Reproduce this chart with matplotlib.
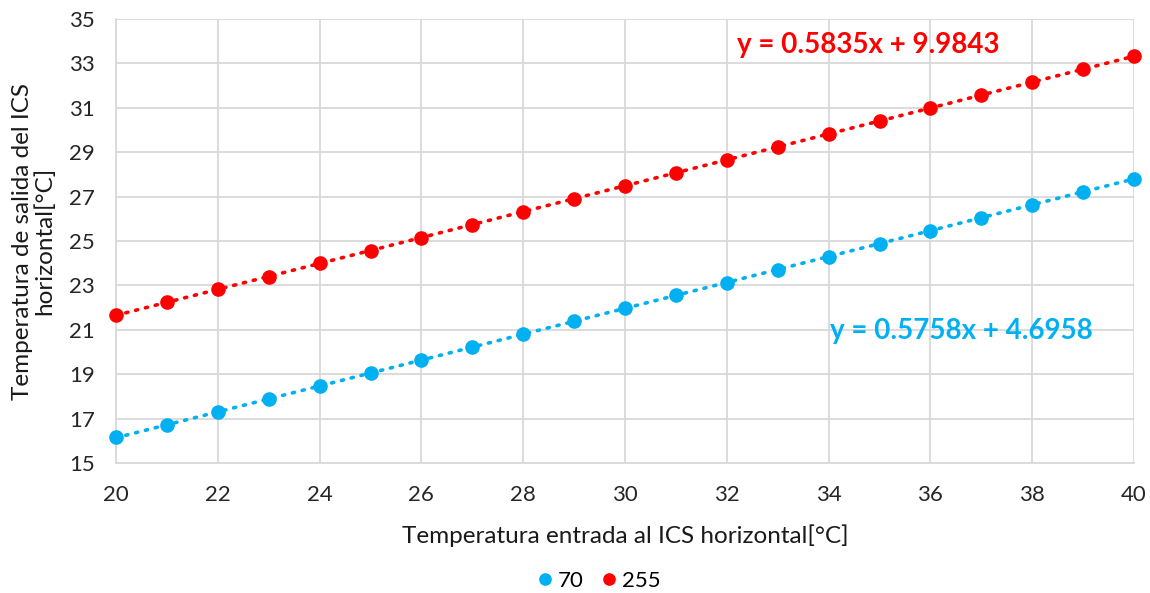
import matplotlib
matplotlib.use("Agg")
import matplotlib.pyplot as plt
import numpy as np

x_vals = list(range(20, 41))
y_70 = [16.15, 16.73, 17.30, 17.88, 18.47, 19.05, 19.63, 20.21, 20.80, 21.38, 21.97,
        22.55, 23.13, 23.71, 24.30, 24.88, 25.47, 26.05, 26.63, 27.22, 27.80]
y_255 = [21.65, 22.25, 22.82, 23.40, 23.99, 24.57, 25.15, 25.74, 26.32, 26.90, 27.49,
         28.07, 28.66, 29.24, 29.82, 30.41, 30.99, 31.57, 32.16, 32.74, 33.32]
series_names = ["70", "255"]
eq_labels = ["y = 0.5758x + 4.6958", "y = 0.5835x + 9.9843"]

blue = "#00B0F0"
red = "#FF0000"
grid_c = "#D9D9D9"

plt.rcParams['font.family'] = ['Lato', 'DejaVu Sans']

fig = plt.figure(figsize=(11.5, 5.93), dpi=100)
ax = fig.add_axes([116/1150, 1-463/593, (1134-116)/1150, (463-19)/593])

xs = np.array(x_vals, dtype=float)
for ys, c, name in [(y_70, blue, series_names[0]), (y_255, red, series_names[1])]:
    ys = np.array(ys)
    coef = np.polyfit(xs, ys, 1)
    ax.plot(xs, np.polyval(coef, xs), color=c, lw=2.6, ls=(0, (0.6, 2.2)),
            dash_capstyle='round', zorder=2)
    ax.plot(xs, ys, 'o', color=c, ms=9.5, label=name, zorder=3, clip_on=False)

ax.set_xlim(20, 40)
ax.set_ylim(15, 35)
ax.set_xticks(range(20, 41, 2))
ax.set_yticks(range(15, 36, 2))
ax.grid(True, color=grid_c, lw=1.3, zorder=0)
ax.set_axisbelow(True)
for s in ['top', 'right']:
    ax.spines[s].set_visible(False)
for s in ['left', 'bottom']:
    ax.spines[s].set_color(grid_c)
    ax.spines[s].set_linewidth(1.3)
ax.tick_params(axis='both', length=0, labelsize=16, colors='#262626')
ax.tick_params(axis='y', pad=15)
ax.tick_params(axis='x', pad=16)

ax.set_xlabel("Temperatura entrada al ICS horizontal[°C]", fontsize=17.5, color='#1a1a1a', labelpad=14)
ax.set_ylabel("Temperatura de salida del ICS\nhorizontal[°C]", fontsize=17.5, color='#1a1a1a', labelpad=10, linespacing=1.05)

ax.text(737/1150, 1-45/593, eq_labels[1], transform=fig.transFigure, color=red,
        fontsize=20, fontweight='bold', va='center', ha='left')
ax.text(830/1150, 1-331/593, eq_labels[0], transform=fig.transFigure, color=blue,
        fontsize=20, fontweight='bold', va='center', ha='left')

fig.legend(loc='center', bbox_to_anchor=(596/1150, 1-581/593), ncol=2, frameon=False,
           fontsize=16, handletextpad=0.0, columnspacing=0.5, markerscale=0.85,
           handlelength=1.2)

fig.savefig("out.png", dpi=100)
